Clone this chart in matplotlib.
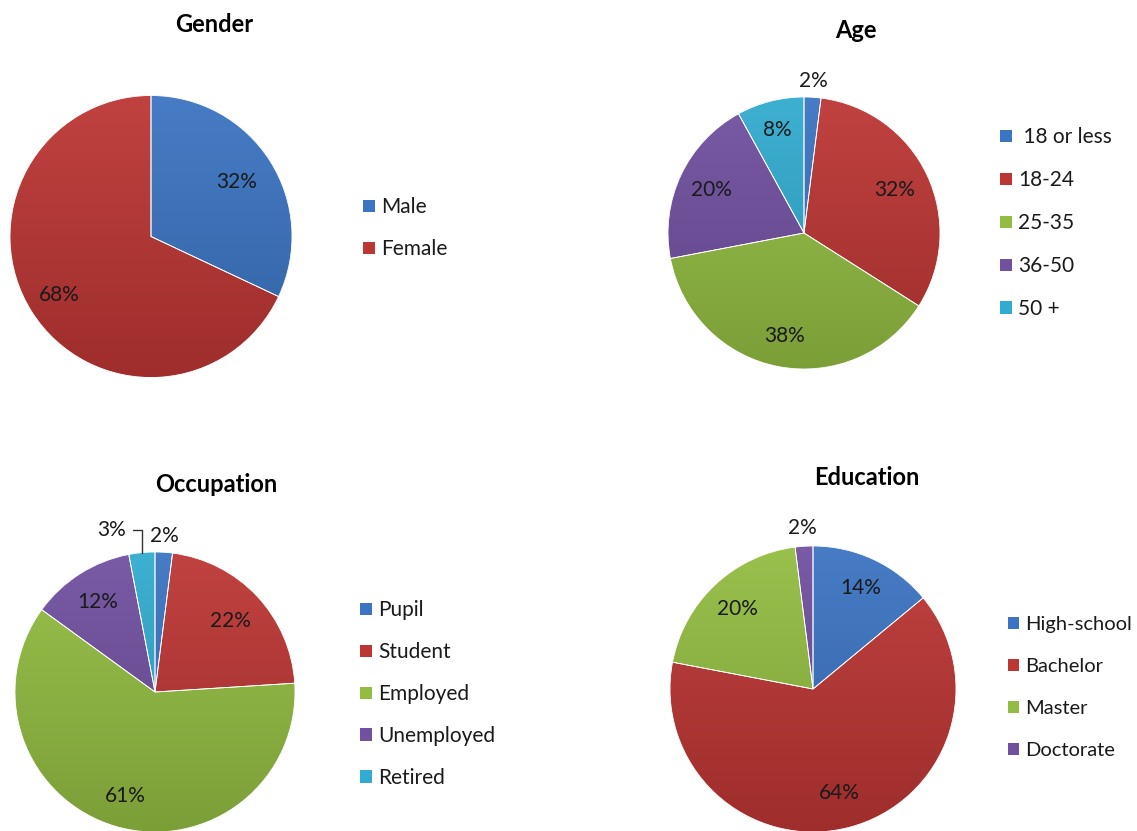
import matplotlib.pyplot as plt
import numpy as np
from matplotlib.colors import to_rgb

plt.rcParams['font.family'] = ['Lato', 'DejaVu Sans']

# survey data
gender_labels = ['Male', 'Female']
gender_values = [32, 68]

age_labels = [' 18 or less', '18-24', '25-35', '36-50', '50 +']
age_values = [2, 32, 38, 20, 8]

occupation_labels = ['Pupil', 'Student', 'Employed', 'Unemployed', 'Retired']
occupation_values = [2, 22, 61, 12, 3]

education_labels = ['High-school', 'Bachelor', 'Master', 'Doctorate']
education_values = [14, 64, 20, 2]

palette = ['#3B74C2', '#BC3634', '#93BD42', '#7150A0', '#31ABCF']

W, H = 1137, 831
fig = plt.figure(figsize=(W / 100, H / 100), dpi=100)
fig.patch.set_facecolor('white')
TXT = '#1a1a1a'


def shade(c, f):
    r, g, b = to_rgb(c)
    if f >= 1:
        return tuple(x + (1 - x) * (f - 1) for x in (r, g, b))
    return tuple(x * f for x in (r, g, b))


def draw_pie(cx, cy, r, values, labels, title, title_xy, legend_xy, dists,
             leader=None, legend_fs=15, spacing=1.05):
    ax = fig.add_axes([(cx - r) / W, (H - cy - r) / H, 2 * r / W, 2 * r / H])
    ax.axis('off')
    wedges, _ = ax.pie(values, colors=palette[:len(values)], startangle=90,
                       counterclock=False, radius=1,
                       wedgeprops=dict(linewidth=0))
    ax.set_aspect('auto')
    # vertical gradient, lighter at top like the office charts
    t = np.linspace(0, 1, 200)[:, None]
    for w, col in zip(wedges, palette):
        top = np.array(shade(col, 1.06))
        bot = np.array(shade(col, 0.84))
        img = top[None, None, :] * (1 - t[..., None]) + bot[None, None, :] * t[..., None]
        img = np.repeat(img, 2, axis=1)
        im = ax.imshow(img, extent=(-1, 1, -1, 1), origin='upper',
                       aspect='auto', zorder=1.5)
        im.set_clip_path(w)
        w.set_edgecolor('white')
        w.set_linewidth(0.6)
        w.set_zorder(2)
        w.set_facecolor('none')
    ax.set_xlim(-1, 1)
    ax.set_ylim(-1, 1)
    for i, (w, v, d) in enumerate(zip(wedges, values, dists)):
        ang = np.deg2rad((w.theta1 + w.theta2) / 2)
        if leader is not None and i == leader[0]:
            la = np.deg2rad(np.rad2deg(ang) + leader[1])
            lx, ly = d * np.cos(la), d * np.sin(la)
            ax.annotate(f'{v}%', xy=(np.cos(ang), np.sin(ang)),
                        xytext=(lx, ly), ha='center', va='center',
                        fontsize=15, color=TXT, annotation_clip=False,
                        arrowprops=dict(arrowstyle='-', color='#333333',
                                        lw=1.0, shrinkA=3, shrinkB=0,
                                        connectionstyle='angle,angleA=0,angleB=90,rad=0'))
            continue
        ax.text(d * np.cos(ang), d * np.sin(ang), f'{v}%', ha='center',
                va='center', fontsize=15, color=TXT, clip_on=False)
    fig.text(title_xy[0] / W, 1 - title_xy[1] / H, title, ha='center',
             va='center', fontsize=17, fontweight='bold', color='black')
    leg = fig.legend(wedges, labels, loc='upper left',
                     bbox_to_anchor=(legend_xy[0] / W, 1 - legend_xy[1] / H),
                     frameon=False, fontsize=legend_fs, handlelength=0.55,
                     handleheight=0.55, handletextpad=0.3,
                     labelspacing=spacing,
                     borderpad=0, labelcolor=TXT)
    for h, col in zip(leg.legend_handles, palette):
        h.set_facecolor(col)
        h.set_edgecolor('none')
    return ax


draw_pie(151, 236.5, 141, gender_values, gender_labels, 'Gender', (214, 25),
         (353, 187), [0.72, 0.77])
draw_pie(804, 233, 136, age_values, age_labels, 'Age', (856, 31),
         (990, 117), [1.12, 0.74, 0.77, 0.75, 0.78], spacing=1.1)
draw_pie(155, 692, 140, occupation_values, occupation_labels, 'Occupation',
         (216, 485), (350, 590), [1.12, 0.74, 0.77, 0.76, 1.2],
         leader=(4, 9.5))
draw_pie(813, 689, 143, education_values, education_labels, 'Education',
         (867, 477), (998, 606), [0.78, 0.75, 0.77, 1.13], legend_fs=14.5,
         spacing=1.24)

fig.savefig('out.png', dpi=100)
